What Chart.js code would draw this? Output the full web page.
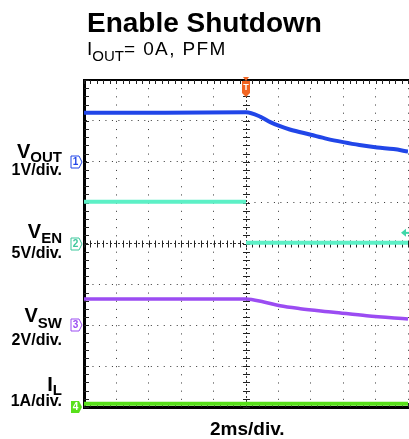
<!DOCTYPE html>
<html>
<head>
<meta charset="utf-8">
<script src="https://cdn.jsdelivr.net/npm/chart.js@4.4.1/dist/chart.umd.min.js"></script>
<style>
  html, body { margin: 0; padding: 0; background: #fff; overflow: hidden; }
  #wrap { position: relative; width: 409px; height: 439px; font-family: "Liberation Sans", Arial, sans-serif; color: #000; }
  #wrap canvas { position: absolute; left: 0; top: 0; }
  .t { position: absolute; line-height: 1; white-space: nowrap; }
  .lbl { position: absolute; right: 347px; line-height: 1; font-weight: bold; text-align: right; white-space: nowrap; }
  .sub { position: relative; }
</style>
</head>
<body>
<div id="wrap">
  <canvas id="scope" width="409" height="439"></canvas>

  <div class="t" style="left:87px; top:9px; font-size:28px; font-weight:bold;">Enable Shutdown</div>
  <div class="t" style="left:87px; top:39px; font-size:19px;">I<span class="sub" style="font-size:15px; top:6px;">OUT</span><span style="letter-spacing:1.4px">= 0A, PFM</span></div>

  <div class="lbl" style="top:141px; font-size:20px;">V<span class="sub" style="font-size:15px; top:4px;">OUT</span></div>
  <div class="lbl" style="top:162px; font-size:16px;">1V/div.</div>

  <div class="lbl" style="top:221px; font-size:20px;">V<span class="sub" style="font-size:15px; top:5px;">EN</span></div>
  <div class="lbl" style="top:245px; font-size:16px;">5V/div.</div>

  <div class="lbl" style="top:305px; font-size:20px;">V<span class="sub" style="font-size:15px; top:6px;">SW</span></div>
  <div class="lbl" style="top:332px; font-size:16px;">2V/div.</div>

  <div class="lbl" style="top:374px; font-size:20px;">I<span class="sub" style="font-size:15px; top:4px;">L</span></div>
  <div class="lbl" style="top:393px; font-size:16px;">1A/div.</div>

  <div class="t" style="left:210px; top:419px; font-size:19px; font-weight:bold;">2ms/div.</div>
</div>

<script>
// time in ms (2ms/div, trigger at 0), values in volts / amps
const voutTime = [-10, -5, 0, 0.9, 1.5, 2.1, 2.7, 4.0, 5.0, 6.0, 7.0, 8.1, 9.1, 10.0];
const voutVolts = [1.2, 1.2, 1.21, 1.10, 0.97, 0.87, 0.79, 0.66, 0.56, 0.48, 0.41, 0.35, 0.31, 0.25];

const venTime = [-10, 0, 0, 0, 10];
const venVolts = [5.1, 5.1, null, 0.1, 0.1];

const vswTime = [-10, -5, 0, 1.1, 2.1, 3.35, 5.4, 7.45, 10];
const vswVolts = [1.29, 1.29, 1.29, 1.14, 0.95, 0.81, 0.64, 0.46, 0.31];

const ilTime = [-10, 10];
const ilAmps = [0.08, 0.08];

// scope channel settings: units per division and ground level (divisions from bottom)
const channelNames = ['1', '2', '3', '4'];
const channelScale = [1, 5, 2, 1];
const channelGround = [6, 4, 2, 0];
const channelColors = ['#2146e8', '#5cf0c6', '#9b4cf2', '#58e01a'];
const triggerLevel = 1.3; // volts on channel 2

function toDiv(times, values, ch) {
  return times.map((t, i) => ({
    x: t,
    y: values[i] === null ? null : channelGround[ch] + values[i] / channelScale[ch]
  }));
}

const scopeMarks = {
  id: 'scopeMarks',
  beforeDatasetsDraw(chart) {
    const { ctx, chartArea: a, scales: { x, y } } = chart;
    const x0 = x.getPixelForValue(0);
    const y0 = y.getPixelForValue(4);
    ctx.save();
    ctx.strokeStyle = '#222';
    ctx.lineWidth = 1;
    ctx.beginPath();
    for (let k = 0; k <= 40; k++) {
      const py = Math.round(y.getPixelForValue(k / 5)) + 0.5;
      ctx.moveTo(x0 - 3, py); ctx.lineTo(x0 + 4, py);
      ctx.moveTo(a.left, py); ctx.lineTo(a.left + 5, py);
    }
    for (let k = 0; k <= 50; k++) {
      const px = Math.round(x.getPixelForValue(-10 + k * 0.4)) + 0.5;
      ctx.moveTo(px, y0 - 3); ctx.lineTo(px, y0 + 4);
      ctx.moveTo(px, a.top); ctx.lineTo(px, a.top + 4);
      ctx.moveTo(px, a.bottom - 4); ctx.lineTo(px, a.bottom);
    }
    ctx.stroke();
    ctx.restore();
  },
  afterDraw(chart) {
    const { ctx, chartArea: a, scales: { x, y } } = chart;
    ctx.save();
    // channel ground markers
    channelNames.forEach((name, i) => {
      const py = y.getPixelForValue(channelGround[i]);
      const left = a.left - 13, top = Math.round(py) - 6;
      const filled = i === 3;
      ctx.beginPath();
      ctx.moveTo(left, top);
      ctx.lineTo(left + 8, top);
      ctx.lineTo(left + 11, top + 6);
      ctx.lineTo(left + 8, top + 12);
      ctx.lineTo(left, top + 12);
      ctx.closePath();
      if (filled) {
        ctx.fillStyle = channelColors[i];
        ctx.fill();
      } else {
        ctx.fillStyle = '#fff';
        ctx.fill();
        ctx.strokeStyle = i === 1 ? '#3cc79c' : channelColors[i];
        ctx.lineWidth = 1;
        ctx.stroke();
      }
      ctx.fillStyle = filled ? '#fff' : (i === 1 ? '#3cc79c' : channelColors[i]);
      ctx.font = 'bold 10px "Liberation Sans", Arial, sans-serif';
      ctx.textAlign = 'center';
      ctx.textBaseline = 'middle';
      ctx.fillText(name, left + 4.5, top + 6.5);
    });

    // trigger position marker
    const tx = x.getPixelForValue(0);
    ctx.fillStyle = '#f26522';
    ctx.beginPath();
    ctx.moveTo(tx - 3, a.top - 3);
    ctx.lineTo(tx + 3, a.top - 3);
    ctx.lineTo(tx, a.top + 1);
    ctx.closePath();
    ctx.fill();
    ctx.beginPath();
    ctx.moveTo(tx - 4, a.top + 1);
    ctx.lineTo(tx + 4, a.top + 1);
    ctx.lineTo(tx + 4, a.top + 13);
    ctx.lineTo(tx, a.top + 17);
    ctx.lineTo(tx - 4, a.top + 13);
    ctx.closePath();
    ctx.fill();
    ctx.fillStyle = '#fff';
    ctx.font = 'bold 9px "Liberation Sans", Arial, sans-serif';
    ctx.textAlign = 'center';
    ctx.textBaseline = 'middle';
    ctx.fillText('T', tx, a.top + 8);

    // trigger level arrow (channel 2)
    const ly = y.getPixelForValue(channelGround[1] + triggerLevel / channelScale[1]);
    ctx.fillStyle = '#3fd7a8';
    ctx.beginPath();
    ctx.moveTo(a.right - 7, ly);
    ctx.lineTo(a.right - 2, ly - 4);
    ctx.lineTo(a.right - 2, ly + 4);
    ctx.closePath();
    ctx.fill();
    ctx.fillRect(a.right - 3, ly - 1, 5, 2);
    ctx.restore();
  }
};

const ctx = document.getElementById('scope').getContext('2d');
new Chart(ctx, {
  type: 'line',
  data: {
    datasets: [
      {
        label: 'VOUT',
        data: toDiv(voutTime, voutVolts, 0),
        borderColor: channelColors[0],
        borderWidth: 4,
        cubicInterpolationMode: 'monotone',
      },
      {
        label: 'VEN',
        data: toDiv(venTime, venVolts, 1),
        borderColor: channelColors[1],
        borderWidth: 4,
        tension: 0,
      },
      {
        label: 'VSW',
        data: toDiv(vswTime, vswVolts, 2),
        borderColor: channelColors[2],
        borderWidth: 3.5,
        cubicInterpolationMode: 'monotone',
      },
      {
        label: 'IL',
        data: toDiv(ilTime, ilAmps, 3),
        borderColor: channelColors[3],
        borderWidth: 4,
        tension: 0,
      },
    ]
  },
  options: {
    responsive: false,
    animation: false,
    events: [],
    layout: { padding: { left: 84, right: 1, top: 80, bottom: 32 } },
    plugins: { legend: { display: false }, tooltip: { enabled: false } },
    elements: { point: { radius: 0 } },
    scales: {
      x: {
        type: 'linear',
        min: -10,
        max: 10,
        afterFit: s => { s.height = 0; },
        ticks: { display: false, stepSize: 2 },
        grid: { color: '#333', lineWidth: 1, drawTicks: false },
        border: {
          color: '#000',
          width: 3,
          dash: c => (c.tick && c.tick.value === 0) ? [2, 2] : [1, 7.175],
        },
      },
      x2: {
        type: 'linear',
        position: 'top',
        min: -10,
        max: 10,
        afterFit: s => { s.height = 0; },
        ticks: { display: false },
        grid: { drawOnChartArea: false, drawTicks: false },
        border: { color: '#000', width: 2 },
      },
      y: {
        min: 0,
        max: 8,
        afterFit: s => { s.width = 0; },
        ticks: { display: false, stepSize: 1 },
        grid: { color: '#333', lineWidth: 1, drawTicks: false },
        border: {
          color: '#000',
          width: 3,
          dash: c => (c.tick && c.tick.value === 4) ? [2, 2] : [1, 5.48],
        },
      },
    },
  },
  plugins: [scopeMarks],
});
</script>
</body>
</html>
